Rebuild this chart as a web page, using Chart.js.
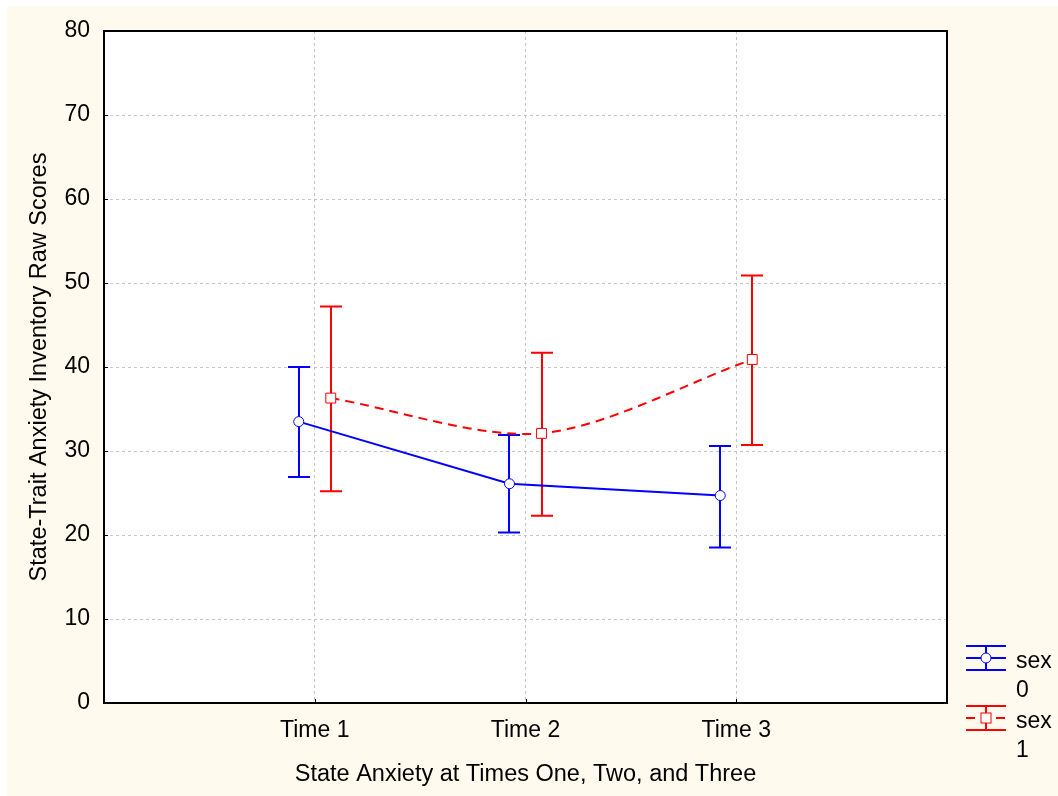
<!DOCTYPE html>
<html>
<head>
<meta charset="utf-8">
<script src="https://cdn.jsdelivr.net/npm/chart.js@4.4.0/dist/chart.umd.min.js"></script>
<style>
  html, body { margin: 0; padding: 0; background: #fff; }
  #wrap { width: 1058px; height: 796px; }
</style>
</head>
<body>
<div id="wrap"><canvas id="chart" width="1058" height="796"></canvas></div>
<script>
// Means and error bar limits
const categories = ['Time 1', 'Time 2', 'Time 3'];
const sex0Mean  = [33.5, 26.1, 24.7];
const sex0Upper = [40.0, 31.9, 30.6];
const sex0Lower = [26.9, 20.3, 18.5];
const sex1Mean  = [36.3, 32.1, 40.9];
const sex1Upper = [47.2, 41.7, 50.9];
const sex1Lower = [25.2, 22.3, 30.7];
const yTicks = [0, 10, 20, 30, 40, 50, 60, 70, 80];

const FONT = '"Liberation Sans", Arial, Helvetica, sans-serif';
const BLUE = '#0000ff';
const RED = '#ff0000';

// points are nudged left/right of the category so the bars don't overlap
function points(mean, lo, hi, shift) {
  return mean.map((m, i) => ({ x: i + 1 + shift, y: m, lo: lo[i], hi: hi[i] }));
}

const paperBg = {
  id: 'paperBg',
  beforeDraw(chart) {
    const { ctx, chartArea: a } = chart;
    ctx.save();
    ctx.fillStyle = '#ffffff';
    ctx.fillRect(0, 0, chart.width, chart.height);
    ctx.fillStyle = '#fefaee';
    ctx.fillRect(7, 6, chart.width - 7, chart.height - 6);
    ctx.fillStyle = '#ffffff';
    ctx.fillRect(a.left, a.top, a.right - a.left, a.bottom - a.top);
    ctx.restore();
  }
};

const errorBars = {
  id: 'errorBars',
  beforeDatasetsDraw(chart) {
    const { ctx, scales: { x, y } } = chart;
    chart.data.datasets.forEach(ds => {
      ctx.save();
      ctx.strokeStyle = ds.borderColor;
      ctx.lineWidth = 2;
      ds.data.forEach(p => {
        const px = Math.round(x.getPixelForValue(p.x));
        const top = y.getPixelForValue(p.hi);
        const bot = y.getPixelForValue(p.lo);
        ctx.beginPath();
        ctx.moveTo(px, top); ctx.lineTo(px, bot);
        ctx.moveTo(px - 11, top); ctx.lineTo(px + 11, top);
        ctx.moveTo(px - 11, bot); ctx.lineTo(px + 11, bot);
        ctx.stroke();
      });
      ctx.restore();
    });
  }
};

const frame = {
  id: 'frame',
  afterDraw(chart) {
    const { ctx, chartArea: a, scales: { x, y } } = chart;
    ctx.save();
    ctx.strokeStyle = '#000';
    ctx.lineWidth = 2;
    ctx.strokeRect(a.left, a.top, a.right - a.left, a.bottom - a.top);
    ctx.lineWidth = 1;
    ctx.beginPath();
    y.ticks.forEach(t => {
      const py = Math.round(y.getPixelForValue(t.value)) + 0.5;
      ctx.moveTo(a.left, py); ctx.lineTo(a.left + 4, py);
    });
    x.ticks.forEach(t => {
      const px = Math.round(x.getPixelForValue(t.value)) + 0.5;
      ctx.moveTo(px, a.bottom); ctx.lineTo(px, a.bottom - 4);
    });
    ctx.stroke();

    // legend, drawn by hand to look like the original error bar keys
    chart.data.datasets.forEach((ds, i) => {
      const cy = 658 + i * 60;
      const x0 = 966, x1 = 1006, cx = 986;
      ctx.strokeStyle = ds.borderColor;
      ctx.lineWidth = 2;
      ctx.setLineDash([]);
      ctx.beginPath();
      ctx.moveTo(x0, cy - 12); ctx.lineTo(x1, cy - 12);
      ctx.moveTo(x0, cy + 12); ctx.lineTo(x1, cy + 12);
      ctx.moveTo(cx, cy - 12); ctx.lineTo(cx, cy + 12);
      ctx.stroke();
      ctx.setLineDash(ds.borderDash || []);
      ctx.beginPath();
      ctx.moveTo(x0, cy); ctx.lineTo(x1, cy);
      ctx.stroke();
      ctx.setLineDash([]);
      ctx.fillStyle = '#fff';
      ctx.lineWidth = 1;
      if (ds.pointStyle === 'rect') {
        ctx.fillRect(cx - 5, cy - 5, 10, 10);
        ctx.strokeRect(cx - 5, cy - 5, 10, 10);
      } else {
        ctx.beginPath();
        ctx.arc(cx, cy, 5, 0, Math.PI * 2);
        ctx.fill(); ctx.stroke();
      }
      const parts = ds.label.split(' ');
      ctx.fillStyle = '#000';
      ctx.font = '23px ' + FONT;
      ctx.textAlign = 'left';
      ctx.textBaseline = 'alphabetic';
      ctx.fillText(parts[0], 1016, cy + 10);
      ctx.fillText(parts[1], 1016, cy + 39);
    });
    ctx.restore();
  }
};

const gridStyle = { color: '#c4c4c4', lineWidth: 1, drawTicks: false, tickLength: 0 };
const dashedBorder = { display: false, dash: [3, 3] };

new Chart(document.getElementById('chart'), {
  type: 'line',
  data: {
    datasets: [
      {
        label: 'sex 0',
        data: points(sex0Mean, sex0Lower, sex0Upper, -0.076),
        borderColor: BLUE,
        borderWidth: 2,
        pointStyle: 'circle',
        pointRadius: 5,
        pointBorderWidth: 1,
        pointBackgroundColor: '#fff',
        pointBorderColor: BLUE,
        tension: 0
      },
      {
        label: 'sex 1',
        data: points(sex1Mean, sex1Lower, sex1Upper, 0.076),
        borderColor: RED,
        borderWidth: 2,
        borderDash: [9, 6],
        pointStyle: 'rect',
        pointRadius: 7,
        pointBorderWidth: 1,
        pointBackgroundColor: '#fff',
        pointBorderColor: RED,
        tension: 0.3
      }
    ]
  },
  options: {
    responsive: false,
    animation: false,
    layout: { padding: { top: 31, right: 111, left: 0, bottom: 0 } },
    plugins: { legend: { display: false }, tooltip: { enabled: false } },
    scales: {
      x: {
        type: 'linear', min: 0, max: 4,
        afterBuildTicks: s => { s.ticks = categories.map((c, i) => ({ value: i + 1 })); },
        afterFit: s => { s.height = 93; },
        border: dashedBorder,
        grid: gridStyle,
        ticks: {
          color: '#000', padding: 14, maxRotation: 0,
          font: { family: FONT, size: 23 },
          callback: v => categories[v - 1]
        },
        title: {
          display: true, text: 'State Anxiety at Times One, Two, and Three',
          color: '#000', font: { family: FONT, size: 23.5 }, padding: { top: 0, bottom: 7 }
        }
      },
      y: {
        min: 0, max: 80,
        afterBuildTicks: s => { s.ticks = yTicks.map(v => ({ value: v })); },
        afterFit: s => { s.width = 104; },
        border: dashedBorder,
        grid: gridStyle,
        ticks: {
          color: '#000', padding: 14,
          font: { family: FONT, size: 23 }
        },
        title: {
          display: true, text: 'State-Trait Anxiety Inventory Raw Scores',
          color: '#000', font: { family: FONT, size: 23.5 }, padding: { top: 25, bottom: 0 }
        }
      }
    }
  },
  plugins: [paperBg, errorBars, frame]
});
</script>
</body>
</html>
